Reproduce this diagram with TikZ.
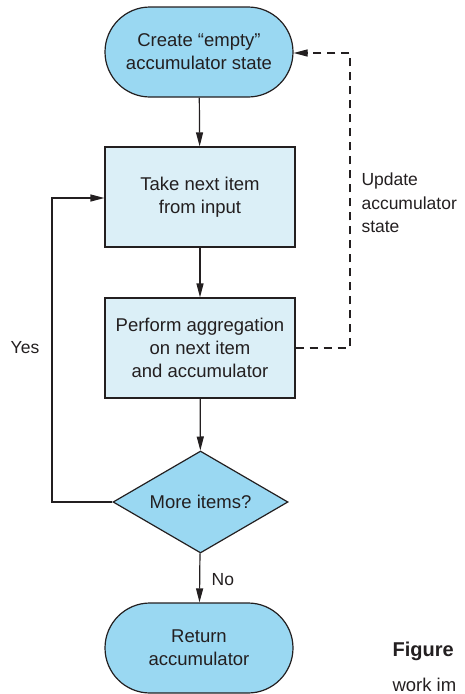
\documentclass[tikz,border=0pt]{standalone}
\usepackage{fontspec}
\setmainfont{Liberation Sans}
\usetikzlibrary{shapes.misc,shapes.geometric,arrows.meta}
\definecolor{termblue}{HTML}{9AD8F2}
\definecolor{boxblue}{HTML}{DBEFF7}
\definecolor{ink}{HTML}{231F20}
\begin{document}
\begin{tikzpicture}[x=1pt,y=-1pt,
  every node/.style={text=ink,font=\fontsize{18.5}{23}\selectfont,align=center},
  term/.style={rounded rectangle,draw=ink,line width=1.2pt,fill=termblue,minimum width=188pt,minimum height=90pt,inner sep=0pt},
  proc/.style={rectangle,draw=ink,line width=1.2pt,fill=boxblue,minimum width=190pt,minimum height=100pt,inner sep=0pt},
  decide/.style={diamond,aspect=1.73,draw=ink,line width=1.2pt,fill=termblue,minimum width=175pt,minimum height=102pt,inner sep=0pt},
  flow/.style={draw=ink,line width=1.2pt,-{Triangle[length=14pt,width=7pt]}},
  dflow/.style={flow,dash pattern=on 8pt off 6pt}
]
\useasboundingbox (0,0) rectangle (464,694);
\node[term] (start) at (199,52) {Create “empty”\\accumulator state};
\node[proc] (take) at (200,197) {Take next item\\from input};
\node[proc] (agg) at (200,348) {Perform aggregation\\on next item\\and accumulator};
\node[decide] (more) at (200.5,502) {More items?};
\node[term] (ret) at (199,648) {Return\\accumulator};

\coordinate (yesc1) at (52,502);
\coordinate (yesc2) at (52,198);
\coordinate (updc1) at (350,348);
\coordinate (updc2) at (350,53);

\draw[flow] (start) -- (take);
\draw[flow] (take) -- (agg);
\draw[flow] (agg) -- (more);
\draw[flow] (more) -- node[right,xshift=8pt,yshift=-2pt,font=\fontsize{17.5}{20}\selectfont]{No} (ret);
\draw[flow] (more.west) -- (yesc1) -- (yesc2) -- (take.west |- yesc2);
\draw[dflow] (agg.east |- updc1) -- (updc1) -- (updc2) -- (start.east |- updc2);

\node[anchor=center,font=\fontsize{17.5}{20}\selectfont] (yes) at (25,348) {Yes};
\node[align=left,anchor=west,font=\fontsize{17.5}{23.5}\selectfont] (upd) at (358,203) {Update\\accumulator\\state};

\node[anchor=west,font=\fontsize{20}{23}\selectfont\bfseries] (fig) at (389,651) {Figure};
\node[anchor=west,font=\fontsize{18.5}{23}\selectfont] (work) at (389,685) {work im};
\end{tikzpicture}
\end{document}
